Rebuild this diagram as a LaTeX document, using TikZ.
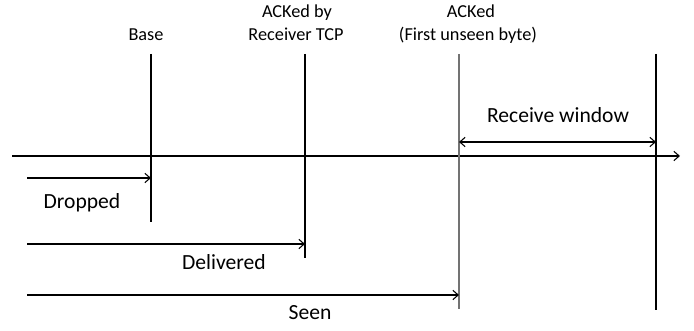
\documentclass[tikz,border=0pt]{standalone}
\usepackage{fontspec}
\setmainfont{Carlito}
\usetikzlibrary{arrows.meta}
\tikzset{
  markline/.style={line width=2pt},
  ackline/.style={line width=0.8pt,black!55},
  span/.style={line width=0.8pt,->},
  toplabel/.style={font=\fontsize{13.7}{17}\selectfont,anchor=base,inner sep=0pt},
  rangelabel/.style={font=\fontsize{16.2}{19}\selectfont,anchor=base,inner sep=0pt}
}
\begin{document}
\begin{tikzpicture}[x=0.75pt,y=-0.75pt,line join=round,>={Straight Barb[length=4pt,width=7pt]}]
\useasboundingbox (0,0) rectangle (694,331);
% sequence axis
\coordinate (axis start) at (12,156);
\coordinate (axis end) at (680,156);
\draw[span] (axis start) -- (axis end);
% marker lines
\coordinate (base top) at (151,54);   \coordinate (base bot) at (151,222);
\coordinate (tcp top) at (305,54);    \coordinate (tcp bot) at (305,258);
\coordinate (ack top) at (459,54);    \coordinate (ack bot) at (459,309);
\coordinate (win top) at (656,54);    \coordinate (win bot) at (656,310);
\draw[markline] (base top) -- (base bot);
\draw[markline] (tcp top) -- (tcp bot);
\draw[ackline] (ack top) -- (ack bot);
\draw[markline] (win top) -- (win bot);
% labels on top
\node[toplabel] (base lbl) at (146,41) {Base};
\node[toplabel] (tcp lbl1) at (297,18) {ACKed by};
\node[toplabel] (tcp lbl2) at (296,41) {Receiver TCP};
\node[toplabel] (ack lbl1) at (471,18) {ACKed};
\node[toplabel] (ack lbl2) at (468,41) {(First unseen byte)};
% receive window
\coordinate (win left) at (459,142);
\draw[span,<->] (win left) -- (win left -| win top);
\node[rangelabel] (win lbl) at (558,123) {Receive window};
% ranges from the start
\coordinate (drop start) at (27,178);
\coordinate (deliv start) at (27,244);
\coordinate (seen start) at (27,295);
\draw[span] (drop start) -- (drop start -| base top);
\draw[span] (deliv start) -- (deliv start -| tcp top);
\draw[span] (seen start) -- (seen start -| ack top);
\node[rangelabel] (drop lbl) at (82,209) {Dropped};
\node[rangelabel] (deliv lbl) at (224,270) {Delivered};
\node[rangelabel] (seen lbl) at (310,320) {Seen};
\end{tikzpicture}
\end{document}
